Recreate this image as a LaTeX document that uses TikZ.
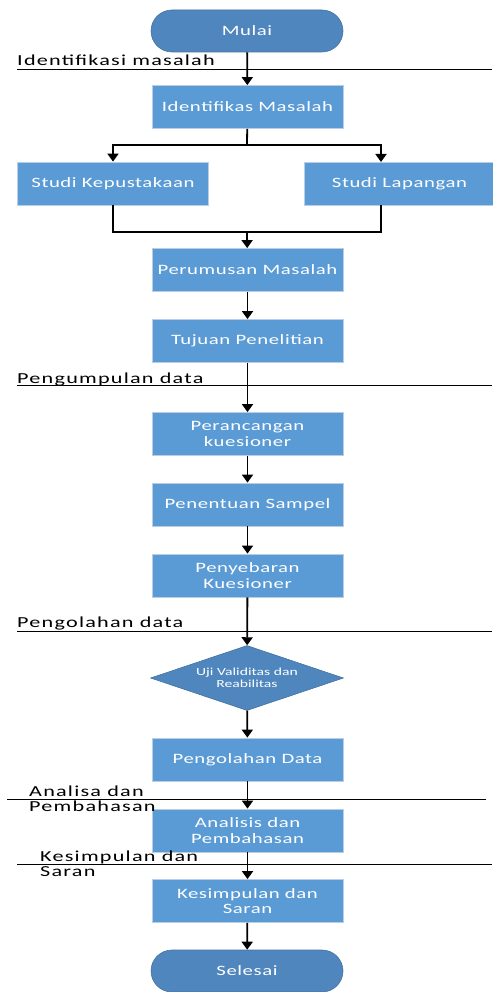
\documentclass[tikz,border=0pt]{standalone}
\usepackage{fontspec}
\setmainfont{Carlito}[FakeStretch=1.45]
\newfontfamily\boxfont{Carlito}[FakeStretch=1.45,LetterSpace=4]
\newfontfamily\lblfont{Carlito}[FakeStretch=1.45,LetterSpace=8]
\usetikzlibrary{arrows.meta,shapes.geometric}
\definecolor{boxblue}{RGB}{91,155,213}
\definecolor{termblue}{RGB}{79,134,189}
\definecolor{boxedge}{RGB}{185,205,228}
\definecolor{termedge}{RGB}{68,114,160}
\tikzset{
	proses/.style={rectangle, fill=boxblue, draw=boxedge, line width=0.8pt, minimum width=191pt, minimum height=43pt, inner sep=0pt, text=white, align=center, font=\boxfont\fontsize{14.3}{15.5}\selectfont},
	terminal/.style={rectangle, rounded corners=21pt, fill=termblue, draw=termedge, line width=0.6pt, minimum width=192pt, minimum height=42pt, inner sep=0pt, text=white, font=\boxfont\fontsize{14.3}{15.5}\selectfont},
	keputusan/.style={diamond, aspect=2.97, fill=termblue, draw=termedge, line width=0.6pt, minimum width=193pt, minimum height=65pt, inner sep=0pt, text=white, align=center, font=\fontsize{10.8}{11.5}\selectfont},
	tahap/.style={anchor=base west, inner sep=0pt, align=left, font=\lblfont\fontsize{15.3}{15}\selectfont},
	garis/.style={line width=0.8pt},
	hubung/.style={line width=1.8pt},
	panah/.style={line width=1.8pt, -{Triangle[width=11pt,length=8pt]}}
}
\begin{document}
\begin{tikzpicture}[x=1pt,y=-1pt]
			%%%%% START %%%%%
			\useasboundingbox (0,0) rectangle (492,992);
			
			% proses
			\node[terminal] (mulai) at (247,31) {Mulai};
			\node[proses] (idm) at (247.5,107) {Identifikas Masalah};
			\node[proses] (kep) at (113,183.5) {Studi Kepustakaan};
			\node[proses] (lap) at (399.5,183.5) {Studi Lapangan};
			\node[proses] (rum) at (247.5,270) {Perumusan Masalah};
			\node[proses] (tuj) at (247.5,341) {Tujuan Penelitian};
			\node[proses] (ran) at (247.5,434) {Perancangan\\kuesioner};
			\node[proses] (sam) at (247.5,504.5) {Penentuan Sampel};
			\node[proses] (seb) at (247.5,575.5) {Penyebaran\\Kuesioner};
			\node[keputusan] (uji) at (247,678) {Uji Validitas dan\\Reabilitas};
			\node[proses] (olah) at (247.5,759.5) {Pengolahan Data};
			\node[proses] (bahas) at (247.5,830.5) {Analisis dan\\Pembahasan};
			\node[proses] (simp) at (247.5,901) {Kesimpulan dan\\Saran};
			\node[terminal] (selesai) at (247,971) {Selesai};
			
			\coordinate (fork) at (247,145);
			\coordinate (join) at (247,232);
			\coordinate (lapin) at (381,162);
			
			% panah
			\draw[panah] (mulai) -- (idm);
			\draw[hubung] (idm) -- (fork);
			\draw[panah] (fork) -| (kep);
			\draw[panah] (fork) -| (lapin);
			\draw[hubung] (kep) |- (join);
			\draw[hubung] (lapin |- lap.south) |- (join);
			\draw[panah] (join) -- (rum);
			\draw[panah] (rum) -- (tuj);
			\draw[panah] (tuj) -- (ran);
			\draw[panah] (ran) -- (sam);
			\draw[panah] (sam) -- (seb);
			\draw[panah] (seb) -- (uji);
			\draw[panah] (uji) -- (olah);
			\draw[panah] (olah) -- (bahas);
			\draw[panah] (bahas) -- (simp);
			\draw[panah] (simp) -- (selesai);
			
			% tahap (garis pemisah)
			\draw[garis] (17,69) -- (492,69);
			\node[tahap] (t1) at (17,66) {Identifikasi masalah};
			\draw[garis] (17,385) -- (492,385);
			\node[tahap] (t2) at (17,383) {Pengumpulan data};
			\draw[garis] (17,631) -- (492,631);
			\node[tahap] (t3) at (17,627) {Pengolahan data};
			\draw[garis] (7,799) -- (486,799);
			\node[tahap] (t4) at (29,811) {Analisa dan\\Pembahasan};
			\draw[garis] (17,864) -- (492,864);
			\node[tahap] (t5) at (40,876) {Kesimpulan dan\\Saran};
			%%%%% END %%%%%
\end{tikzpicture}
\end{document}
